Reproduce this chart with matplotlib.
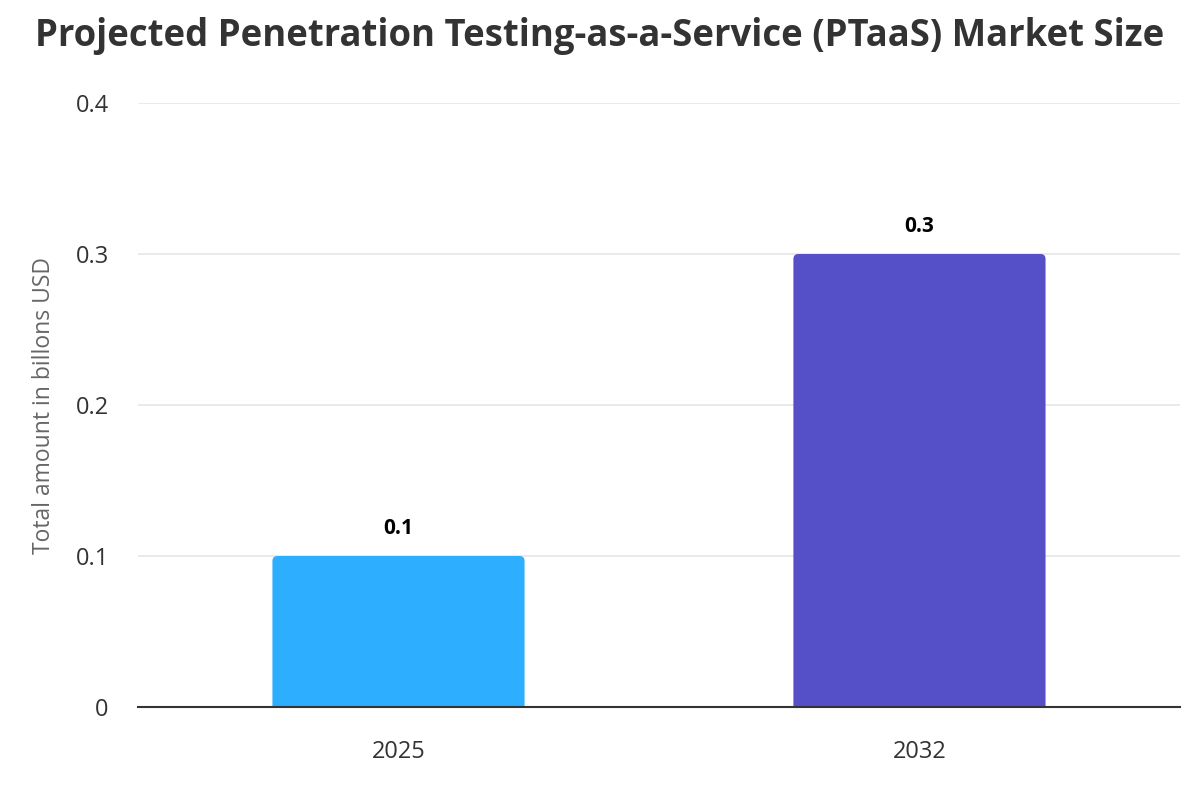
import matplotlib
matplotlib.use("Agg")
import matplotlib.pyplot as plt
from matplotlib.patches import FancyBboxPatch

# Datos
years = ["2025", "2032"]
market_size = [0.1, 0.3]
bar_colors = ["#2DAEFF", "#5550C8"]
y_ticks = [0, 0.1, 0.2, 0.3, 0.4]
y_tick_labels = ["0", "0.1", "0.2", "0.3", "0.4"]

plt.rcParams["font.family"] = ["Open Sans", "DejaVu Sans"]

fig = plt.figure(figsize=(12, 8), dpi=100)
ax = fig.add_axes([0.115, 0.11625, 0.8683, 0.755])

x = list(range(len(years)))
bars = ax.bar(x, market_size, width=0.484, color=bar_colors, zorder=3)

ax.set_xlim(-0.5, 1.5)
ax.set_ylim(0, 0.4)

# Esquinas superiores redondeadas (la parte inferior queda recortada bajo el eje)
px_x = 2.0 / 1042
px_y = 0.4 / 604
for b in bars:
    b.set_visible(False)
    r = FancyBboxPatch((b.get_x(), -6 * px_y), b.get_width(), b.get_height() + 6 * px_y,
                       boxstyle=f"round,pad=0,rounding_size={5 * px_x}",
                       mutation_aspect=px_y / px_x,
                       facecolor=b.get_facecolor(), edgecolor="none", zorder=3)
    ax.add_patch(r)

# Etiquetas de valor encima de las barras
for b, v in zip(bars, market_size):
    ax.annotate(f"{v:.1f}", (b.get_x() + b.get_width() / 2, v),
                xytext=(0, 12), textcoords="offset points",
                ha="center", va="bottom", fontsize=15, fontweight="bold",
                color="#000000")

ax.set_xticks(x)
ax.set_xticklabels(years)
ax.set_yticks(y_ticks)
ax.set_yticklabels(y_tick_labels)
ax.tick_params(axis="both", length=0, labelsize=17, colors="#333333")
ax.tick_params(axis="x", pad=24)
ax.tick_params(axis="y", pad=21)

ax.grid(axis="y", color="#e6e6e6", linewidth=1.2, zorder=0)
for s in ["top", "right", "left"]:
    ax.spines[s].set_visible(False)
ax.spines["bottom"].set_color("#333333")
ax.spines["bottom"].set_linewidth(1.5)
ax.spines["bottom"].set_zorder(4)

ax.set_ylabel("Total amount in billons USD", fontsize=16.5, color="#666666", labelpad=14)

fig.text(0.5, 0.955, "Projected Penetration Testing-as-a-Service (PTaaS) Market Size",
         ha="center", va="center", fontsize=26.3, fontweight="bold", color="#333333")

fig.savefig("out.png", dpi=100)
